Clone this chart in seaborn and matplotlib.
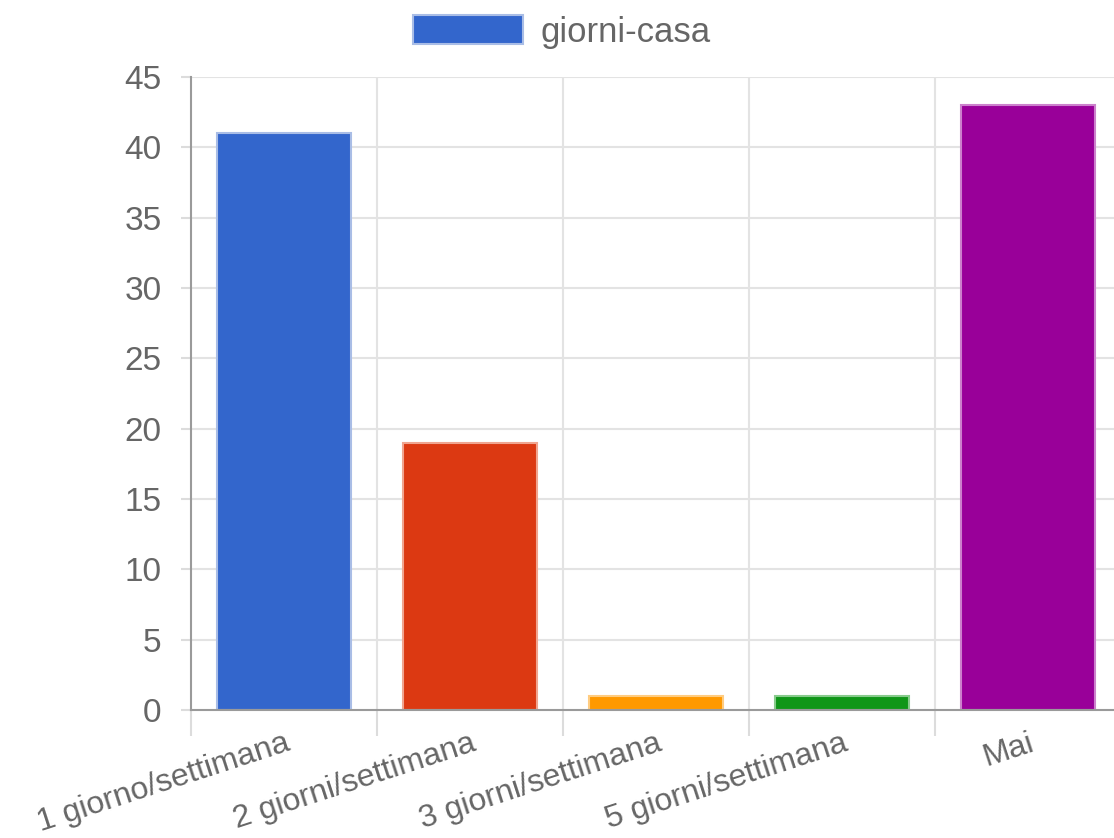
import matplotlib
matplotlib.use("Agg")
import matplotlib.pyplot as plt
import matplotlib.patches as mpatches
import seaborn as sns
import pandas as pd
import numpy as np

categories = ["1 giorno/settimana", "2 giorni/settimana", "3 giorni/settimana",
              "5 giorni/settimana", "Mai"]
values = [41, 19, 1, 1, 43]
colors = ["#3366CC", "#DC3912", "#FF9900", "#109618", "#990099"]
edge_colors = ["#a9bde6", "#f0a590", "#ffcc80", "#88cb8c", "#cc80cc"]
series_name = "giorni-casa"
y_ticks = [0, 5, 10, 15, 20, 25, 30, 35, 40, 45]

sns.set_theme(style="white")
plt.rcParams["font.family"] = ["Liberation Sans", "DejaVu Sans"]

df = pd.DataFrame({"categoria": categories, series_name: values})

fig = plt.figure(figsize=(11.14, 8.38), dpi=100)
ax = fig.add_axes([191 / 1114, 1 - 710 / 838, 930 / 1114, (710 - 77) / 838])

sns.barplot(data=df, x="categoria", y=series_name, hue="categoria",
            palette=colors, legend=False, width=0.72, ax=ax, saturation=1)
for patch, ec in zip(ax.patches, edge_colors):
    patch.set_edgecolor(ec)
    patch.set_linewidth(1.5)

ax.set_xlim(-0.5, len(categories) - 0.5)
ax.set_ylim(0, 45)
ax.set_yticks(y_ticks)
ax.set_xlabel("")
ax.set_ylabel("")

grid_color = "#e3e3e3"
axis_color = "#9a9a9a"
for y in y_ticks[1:]:
    ax.axhline(y, color=grid_color, lw=1.5, zorder=0)
for i in range(1, len(categories) + 1):
    ax.axvline(i - 0.5, color=grid_color, lw=1.5, zorder=0)

for side in ["top", "right"]:
    ax.spines[side].set_visible(False)
ax.spines["left"].set_color(axis_color)
ax.spines["bottom"].set_color(axis_color)
ax.spines["left"].set_linewidth(1.5)
ax.spines["bottom"].set_linewidth(1.5)

# tick marks sit on the category boundaries, labels at the centres
ax.set_xticks(np.arange(len(categories)))
ax.set_xticks(np.arange(len(categories) + 1) - 0.5, minor=True)
ax.tick_params(axis="x", which="major", length=0, pad=13)
ax.tick_params(axis="x", which="minor", length=19, width=1.5, color="#dcdcdc",
               bottom=True)
ax.set_xticklabels(categories, rotation=18, ha="right", rotation_mode="anchor",
                   fontsize=23, color="#666666")
ax.tick_params(axis="y", length=7.2, width=1.5, color="#dcdcdc", pad=14,
               labelsize=24, labelcolor="#666666", left=True)

handle = mpatches.Patch(facecolor=colors[0], edgecolor=edge_colors[0], lw=1.5)
fig.legend([handle], [series_name], loc="center", bbox_to_anchor=(562 / 1114, 1 - 32 / 838),
           frameon=False, handlelength=3.17, handleheight=0.92, handletextpad=0.52,
           prop={"size": 25}, labelcolor="#666666", borderpad=0)

fig.savefig("out.png", dpi=100)
